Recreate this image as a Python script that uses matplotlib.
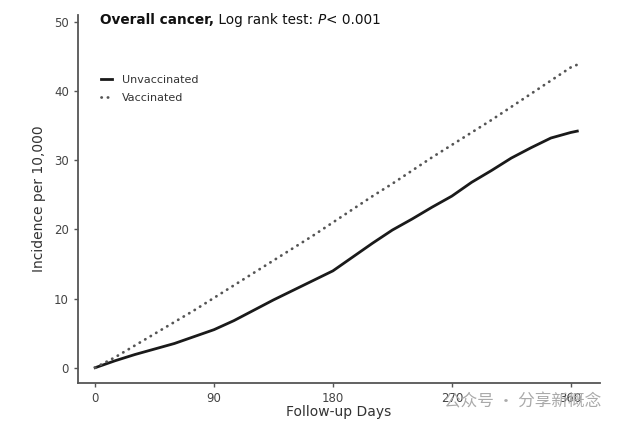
import matplotlib
matplotlib.use('Agg')
import matplotlib.pyplot as plt

days = [0, 15, 30, 45, 60, 75, 90, 105, 120, 135, 150, 165, 180, 195, 210,
        225, 240, 255, 270, 285, 300, 315, 330, 345, 360, 365]
unvaccinated = [0, 1.0, 1.9, 2.7, 3.5, 4.5, 5.5, 6.8, 8.3, 9.8, 11.2, 12.6, 14.0,
                16.0, 18.0, 19.9, 21.5, 23.2, 24.8, 26.8, 28.5, 30.3, 31.8, 33.2,
                34.0, 34.2]
vaccinated = [0, 1.5, 3.2, 4.9, 6.6, 8.3, 10.1, 11.9, 13.7, 15.5, 17.3, 19.1, 21.0,
              22.9, 24.8, 26.6, 28.5, 30.4, 32.2, 34.0, 35.8, 37.7, 39.6, 41.5,
              43.4, 43.8]
xticks = [0, 90, 180, 270, 360]
yticks = [0, 10, 20, 30, 40, 50]

fig = plt.figure(figsize=(6.34, 4.25), dpi=100)
ax = fig.add_axes([0.123, 0.099, 0.823, 0.866])

ax.plot(days, unvaccinated, color='#1a1a1a', lw=2.0, label='Unvaccinated')
ax.plot(days, vaccinated, color='#555555', lw=2.0, linestyle=(0, (0.1, 2.2)),
        dash_capstyle='round', label='Vaccinated')

ax.set_xlim(-13, 382)
ax.set_ylim(-2.2, 51)
ax.set_xticks(xticks)
ax.set_yticks(yticks)
for side in ['top', 'right']:
    ax.spines[side].set_visible(False)
for side in ['left', 'bottom']:
    ax.spines[side].set_color('#555555')
    ax.spines[side].set_linewidth(1.3)
ax.tick_params(length=3, width=1, color='#555555', labelsize=8.5, labelcolor='#444444')

ax.set_xlabel('Follow-up Days', fontsize=10, color='#333333', labelpad=0)
ax.set_ylabel('Incidence per 10,000', fontsize=10, color='#333333', labelpad=6)

# title inside plot, mixed styles
t1 = ax.text(0.042, 0.985, 'Overall cancer,', transform=ax.transAxes, fontsize=9.8,
             fontweight='bold', va='center', ha='left', color='#111111')
t2 = ax.annotate(' Log rank test: ', xy=(1, 0), xycoords=t1, va='bottom', ha='left',
                 fontsize=9.8, color='#111111')
t3 = ax.annotate('P', xy=(1, 0), xycoords=t2, va='bottom', ha='left',
                 fontsize=9.8, style='italic', color='#111111')
ax.annotate('< 0.001', xy=(1, 0), xycoords=t3, va='bottom', ha='left',
            fontsize=9.8, color='#111111')

leg = ax.legend(loc='upper left', bbox_to_anchor=(0.025, 0.865), frameon=False,
                fontsize=8, handlelength=1.0, handletextpad=0.9, labelspacing=0.75)
for txt in leg.get_texts():
    txt.set_color('#333333')

fig.text(0.70, 0.055, '公众号 · 分享新概念', fontsize=12, color='#aaaaaa',
         family=['Noto Sans CJK SC', 'DejaVu Sans'], va='center', ha='left')

fig.savefig('out.png', dpi=100)
